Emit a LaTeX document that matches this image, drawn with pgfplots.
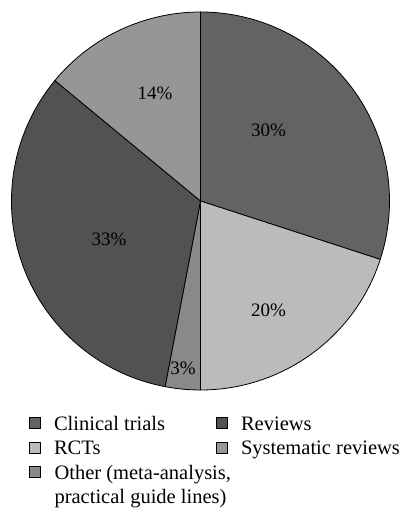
\documentclass[border=0pt]{standalone}
\usepackage{fontspec}
\setmainfont{Liberation Serif}
\usepackage{pgfplots}
\usepackage{pgfplotstable}
\pgfplotsset{compat=1.18}
\definecolor{cA}{HTML}{636363}
\definecolor{cB}{HTML}{BBBBBB}
\definecolor{cC}{HTML}{898989}
\definecolor{cD}{HTML}{525252}
\definecolor{cE}{HTML}{969696}
\pgfplotsset{
  sq/.style={legend image code/.code={\draw[draw=black, line width=0.6bp, fill=#1] (0bp,-5.5bp) rectangle (11bp,5.5bp);}},
}
\pgfplotstableread{
name value
Clinical 30
RCTs 20
Other 3
Reviews 33
Systematic 14
}\piedata
\begin{document}
\begin{tikzpicture}
\pgfplotstablegetelem{0}{value}\of\piedata \let\vA\pgfplotsretval
\pgfplotstablegetelem{1}{value}\of\piedata \let\vB\pgfplotsretval
\pgfplotstablegetelem{2}{value}\of\piedata \let\vC\pgfplotsretval
\pgfplotstablegetelem{3}{value}\of\piedata \let\vD\pgfplotsretval
\pgfplotstablegetelem{4}{value}\of\piedata \let\vE\pgfplotsretval
\pgfmathsetmacro\aA{90}
\pgfmathsetmacro\aB{\aA-3.6*\vA}
\pgfmathsetmacro\aC{\aB-3.6*\vB}
\pgfmathsetmacro\aD{\aC-3.6*\vC}
\pgfmathsetmacro\aE{\aD-3.6*\vD}
\pgfmathsetmacro\aF{\aE-3.6*\vE}
\begin{axis}[
  scale only axis, width=403bp, height=512bp,
  xmin=-1.0608, xmax=1.0714, ymin=-1.6455, ymax=1.0635,
  hide axis, clip=false,
  font=\fontsize{19bp}{22bp}\selectfont,
  legend columns=2,
  legend cell align=left,
  legend style={at={(axis cs:-0.906,-1.1365)}, anchor=north west, draw=none, fill=none, inner sep=0pt,
    font=\fontsize{20.5bp}{24bp}\selectfont,
    nodes={inner sep=0pt, text height=14.4bp, text depth=0bp},
    column sep=13bp, row sep=10.1bp,
    /tikz/every even column/.append style={column sep=51.4bp}},
]
\filldraw[fill=cA, draw=black, line width=0.8bp] (axis cs:0,0) -- (axis cs:{cos(\aA)},{sin(\aA)}) arc[start angle=\aA, end angle=\aB, radius=189bp] -- cycle;
\filldraw[fill=cB, draw=black, line width=0.8bp] (axis cs:0,0) -- (axis cs:{cos(\aB)},{sin(\aB)}) arc[start angle=\aB, end angle=\aC, radius=189bp] -- cycle;
\filldraw[fill=cC, draw=black, line width=0.8bp] (axis cs:0,0) -- (axis cs:{cos(\aC)},{sin(\aC)}) arc[start angle=\aC, end angle=\aD, radius=189bp] -- cycle;
\filldraw[fill=cD, draw=black, line width=0.8bp] (axis cs:0,0) -- (axis cs:{cos(\aD)},{sin(\aD)}) arc[start angle=\aD, end angle=\aE, radius=189bp] -- cycle;
\filldraw[fill=cE, draw=black, line width=0.8bp] (axis cs:0,0) -- (axis cs:{cos(\aE)},{sin(\aE)}) arc[start angle=\aE, end angle=\aF, radius=189bp] -- cycle;
\node at (axis cs:0.36,0.376) {30\%};
\node at (axis cs:0.36,-0.577) {20\%};
\node at (axis cs:-0.093,-0.884) {3\%};
\node at (axis cs:-0.484,-0.201) {33\%};
\node at (axis cs:-0.241,0.571) {14\%};
\addlegendimage{sq=cA}\addlegendentry{Clinical trials}
\addlegendimage{sq=cD}\addlegendentry{Reviews}
\addlegendimage{sq=cB}\addlegendentry{RCTs}
\addlegendimage{sq=cE}\addlegendentry{Systematic reviews}
\addlegendimage{sq=cC}\addlegendentry{\rlap{Other (meta-analysis,}}
\addlegendimage{empty legend}\addlegendentry{}
\addlegendimage{empty legend}\addlegendentry{\rlap{practical guide lines)}}
\end{axis}
\pgfresetboundingbox
\path (current axis.south west) rectangle (current axis.north east);
\end{tikzpicture}
\end{document}
